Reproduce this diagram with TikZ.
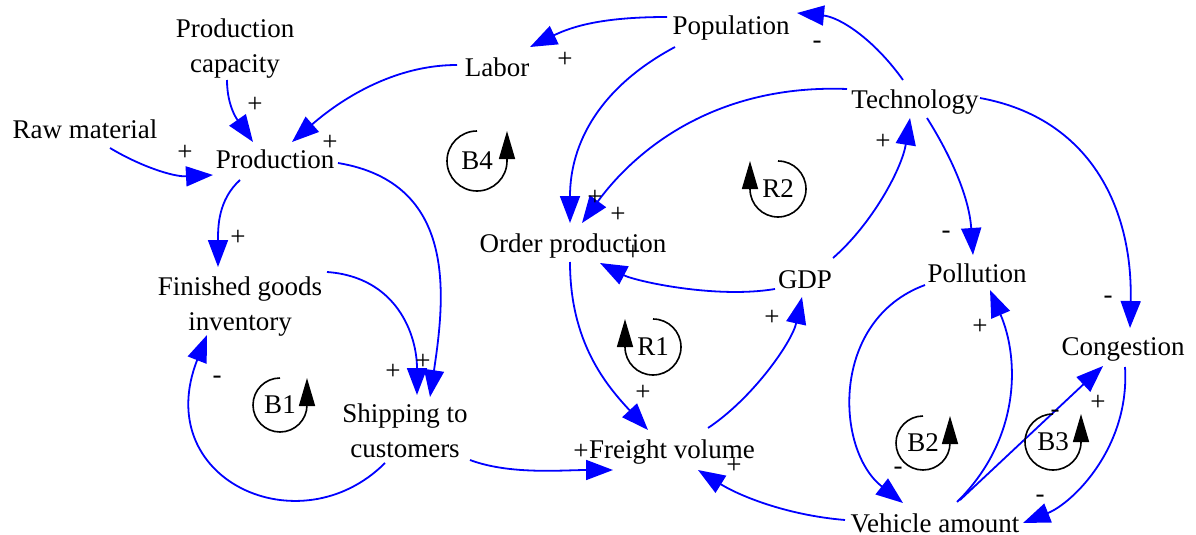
\documentclass[tikz,border=0pt]{standalone}
\usepackage{fontspec}
\setmainfont{Liberation Serif}
\usetikzlibrary{arrows.meta,calc}
\newcommand{\balloop}[5]{% name, x, y, label, radius
  \node[looplab] (#1) at (#2,#3) {#4};
  \draw[loopline] ($(#1)+(0,-#5)$) arc[start angle=90,end angle=360,radius=#5pt] -- ++(0pt,#5pt);
}
\newcommand{\reinloop}[5]{% name, x, y, label, radius
  \node[looplab] (#1) at (#2,#3) {#4};
  \draw[loopline] ($(#1)+(0,-#5)$) arc[start angle=90,end angle=-180,radius=#5pt] -- ++(0pt,#5pt);
}
\begin{document}
\begin{tikzpicture}[x=1pt,y=-1pt,
  var/.style={font=\fontsize{27}{35}\selectfont, inner sep=0pt, text height=18.5pt, text depth=5.5pt},
  var2/.style={font=\fontsize{27}{35}\selectfont, inner sep=0pt, align=center},
  pol/.style={font=\fontsize{27}{35}\selectfont, inner sep=0pt},
  looplab/.style={font=\fontsize{27}{35}\selectfont, inner sep=0pt},
  loopline/.style={draw=black, line width=1.6pt, -{Triangle[length=28pt,width=16pt]}},
  link/.style={draw=blue, line width=1.8pt, -{Triangle[length=27pt,width=20pt]}}]
\useasboundingbox (0,0) rectangle (1196,535);
% variables
\node[var2] (pcap) at (235,49) {Production\\capacity};
\node[var] (raw) at (85,131.5) {Raw material};
\node[var] (prod) at (275,161.5) {Production};
\node[var] (labor) at (497,69.5) {Labor};
\node[var] (pop) at (731,28.5) {Population};
\node[var] (tech) at (915,101.5) {Technology};
\node[var] (order) at (573,245.5) {Order production};
\node[var] (gdp) at (805,281.5) {GDP};
\node[var] (poll) at (977,275.5) {Pollution};
\node[var] (cong) at (1123,348.5) {Congestion};
\node[var2] (fgi) at (240,307) {Finished goods\\inventory};
\node[var2] (ship) at (405,430.3) {Shipping to\\customers};
\node[var] (freight) at (672,451.5) {Freight volume};
\node[var] (vehicle) at (935,525.5) {Vehicle amount};
% links
\draw[link] ($(pcap)+(-8,31)$) .. controls +(0,28) and +(-14,-20) .. ($(prod)+(-22,-19.5)$);
\draw[link] ($(raw)+(25,16.5)$) .. controls +(30,18) and +(-40,2) .. ($(prod)+(-62,13.5)$);
\draw[link] ($(labor)+(-40,-4.5)$) .. controls +(-70,0) and +(40,-35) .. ($(prod)+(17,-19.5)$);
\draw[link] ($(pop)+(-64,-11.5)$) .. controls +(-60,0) and +(45,-22) .. ($(labor)+(33,-22.5)$);
\draw[link] ($(tech)+(-12,-21.5)$) .. controls +(-30,-42) and +(42,4) .. ($(pop)+(66,-15.5)$);
\draw[link] ($(pop)+(-56,18.5)$) .. controls +(-75,40) and +(0,-80) .. ($(order)+(-3,-22.5)$);
\draw[link] ($(tech)+(-68,-12.5)$) .. controls +(-130,-5) and +(55,-75) .. ($(order)+(9,-22.5)$);
\draw[link] ($(gdp)+(-30,7.5)$) .. controls +(-60,10) and +(35,18) .. ($(order)+(27,17.5)$);
\draw[link] ($(gdp)+(28,-23.5)$) .. controls +(40,-35) and +(-8,50) .. ($(tech)+(-5,16.5)$);
\draw[link] ($(tech)+(12,16.5)$) .. controls +(22,35) and +(-4,-60) .. ($(poll)+(-4,-20.5)$);
\draw[link] ($(tech)+(65,-3.5)$) .. controls +(110,20) and +(3,-120) .. ($(cong)+(7,-20.5)$);
\draw[link] ($(order)+(-3,16.5)$) .. controls +(0,80) and +(-42,-45) .. ($(freight)+(-24,-21.5)$);
\draw[link] ($(freight)+(36,-23.5)$) .. controls +(45,-30) and +(-10,45) .. ($(gdp)+(-3,15.5)$);
\draw[link] ($(vehicle)+(-90,-5.5)$) .. controls +(-60,-5) and +(40,25) .. ($(freight)+(26,18.5)$);
\draw[link] ($(ship)+(65,29.7)$) .. controls +(40,15) and +(-50,0) .. ($(freight)+(-59,18.5)$);
\draw[link] ($(prod)+(-35,18.5)$) .. controls +(-22,20) and +(0,-40) .. ($(fgi)+(-22,-40)$);
\draw[link] ($(prod)+(63,1.5)$) .. controls +(120,20) and +(15,-100) .. ($(ship)+(25,-33.3)$);
\draw[link] ($(fgi)+(87,-35)$) .. controls +(70,5) and +(0,-60) .. ($(ship)+(12,-35.3)$);
\draw[link] ($(ship)+(-20,32.7)$) .. controls +(-85,85) and +(-57,145) .. ($(fgi)+(-33,28)$);
\draw[link] ($(poll)+(-52,9.5)$) .. controls +(-95,35) and +(-68,-53) .. ($(vehicle)+(-32,-22.5)$);
\draw[link] ($(vehicle)+(22,-23.5)$) .. controls +(63,-62) and +(30,70) .. ($(poll)+(13,14.5)$);
\draw[link] ($(vehicle)+(25,-25.5)$) -- ($(cong)+(-20,17.5)$);
\draw[link] ($(cong)+(2,18.5)$) .. controls +(5,80) and +(50,-20) .. ($(vehicle)+(88,-2.5)$);
% polarities
\node[pol] (s1) at (255,105) {+};
\node[pol] (s2) at (185,153) {+};
\node[pol] (s3) at (330,143) {+};
\node[pol] (s4) at (565,60) {+};
\node[pol] (s5) at (817,45) {-};
\node[pol] (s6) at (595,198) {+};
\node[pol] (s7) at (618,215) {+};
\node[pol] (s8) at (633,253) {+};
\node[pol] (s9) at (883,142) {+};
\node[pol] (s10) at (946,235) {-};
\node[pol] (s11) at (1108,300) {-};
\node[pol] (s12) at (643,393) {+};
\node[pol] (s13) at (772,318) {+};
\node[pol] (s14) at (734,466) {+};
\node[pol] (s15) at (581,452) {+};
\node[pol] (s16) at (238,238) {+};
\node[pol] (s17) at (423,362) {+};
\node[pol] (s18) at (393,372) {+};
\node[pol] (s19) at (217,380) {-};
\node[pol] (s20) at (898,471) {-};
\node[pol] (s21) at (980,327) {+};
\node[pol] (s22) at (1098,403) {+};
\node[pol] (s23) at (1055,414) {-};
\node[pol] (s24) at (1040,499) {-};
% loops
\balloop{B4}{477}{161}{B4}{30}
\reinloop{R2}{778}{189}{R2}{28}
\balloop{B1}{280}{405}{B1}{27}
\reinloop{R1}{653}{347}{R1}{28}
\balloop{B2}{923}{443}{B2}{27}
\balloop{B3}{1053}{442}{B3}{28}
\end{tikzpicture}
\end{document}
